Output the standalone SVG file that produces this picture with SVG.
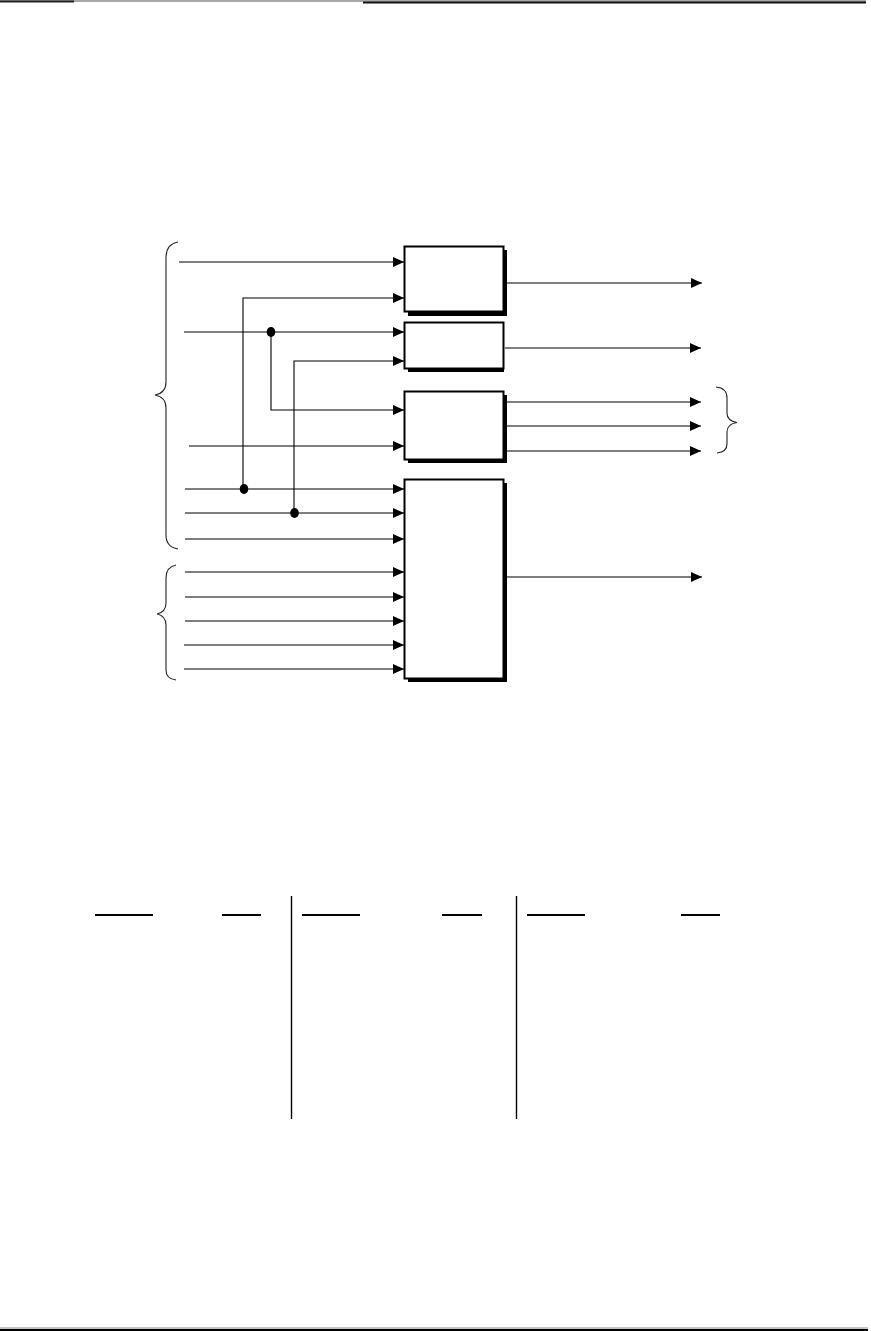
<svg xmlns="http://www.w3.org/2000/svg" width="871" height="1331" viewBox="0 0 871 1331">
<style>
.box{fill:#fff;stroke:#000;stroke-width:2}
.shadow{fill:#000}
.wire{fill:none;stroke:#000;stroke-width:1.1}
.brace{fill:none;stroke:#222;stroke-width:1.1}
.rule{stroke:#000;stroke-width:2.2}
.vrule{stroke:#000;stroke-width:1.4}
</style>
<defs>
<marker id="arr" markerUnits="userSpaceOnUse" markerWidth="12" markerHeight="11" refX="11" refY="5" orient="auto">
<path d="M0,0 L11,5 L0,10 z" fill="#000"/>
</marker>
</defs>
<rect width="871" height="1331" fill="#fff"/>
<g id="page-rules">
<line x1="0" y1="1" x2="866" y2="1" stroke="#8a8a8a" stroke-width="1.5"/>
<line x1="0" y1="1.5" x2="74" y2="1.5" stroke="#222" stroke-width="2"/>
<line x1="363" y1="2.5" x2="866" y2="2.5" stroke="#111" stroke-width="2"/>
<line x1="0" y1="1328" x2="868" y2="1328" stroke="#888" stroke-width="1"/>
<line x1="0" y1="1330" x2="868" y2="1330" stroke="#000" stroke-width="1.8"/>
</g>
<g id="braces">
<path class="brace" d="M178,242 Q166,244 166,258 L166,382 Q166,393 155,395 Q166,397 166,408 L166,535 Q166,547 178,549"/>
<path class="brace" d="M176,565 Q166,567 166,578 L166,603 Q166,612 157,614 Q166,616 166,625 L166,670 Q166,679 176,680"/>
<path class="brace" d="M716,387 Q727,388 727,398 L727,413 Q727,421 737,422.5 Q727,424 727,432 L727,444 Q727,452 717,453"/>
</g>
<g id="connectors">
<path class="wire" d="M179,262 H404" marker-end="url(#arr)"/>
<path class="wire" d="M243,489 V298 H404" marker-end="url(#arr)"/>
<path class="wire" d="M184,332 H404" marker-end="url(#arr)"/>
<path class="wire" d="M271,332 V410 H404" marker-end="url(#arr)"/>
<path class="wire" d="M294,513 V361 H404" marker-end="url(#arr)"/>
<path class="wire" d="M189,446 H404" marker-end="url(#arr)"/>
<path class="wire" d="M185,489 H404" marker-end="url(#arr)"/>
<path class="wire" d="M185,513 H404" marker-end="url(#arr)"/>
<path class="wire" d="M185,539 H404" marker-end="url(#arr)"/>
<path class="wire" d="M185,572 H404" marker-end="url(#arr)"/>
<path class="wire" d="M185,597 H404" marker-end="url(#arr)"/>
<path class="wire" d="M185,621 H404" marker-end="url(#arr)"/>
<path class="wire" d="M184,645 H404" marker-end="url(#arr)"/>
<path class="wire" d="M184,669 H404" marker-end="url(#arr)"/>
<path class="wire" d="M507,283 H702" marker-end="url(#arr)"/>
<path class="wire" d="M505,348 H701" marker-end="url(#arr)"/>
<path class="wire" d="M507,402 H701" marker-end="url(#arr)"/>
<path class="wire" d="M507,426 H701" marker-end="url(#arr)"/>
<path class="wire" d="M507,451 H701" marker-end="url(#arr)"/>
<path class="wire" d="M507,577 H702" marker-end="url(#arr)"/>
<ellipse cx="271" cy="332" rx="4.3" ry="5" fill="#000"/>
<ellipse cx="244" cy="489" rx="4.3" ry="5" fill="#000"/>
<ellipse cx="294.5" cy="513" rx="4.3" ry="5" fill="#000"/>
</g>
<g id="block1">
<rect class="shadow" x="408" y="250" width="99" height="66"/>
<rect class="box" x="404.5" y="246.5" width="99" height="65"/>
</g>
<g id="block2">
<rect class="shadow" x="408" y="326" width="96" height="46"/>
<rect class="box" x="404.5" y="322.5" width="99" height="46"/>
</g>
<g id="block3">
<rect class="shadow" x="408" y="395" width="99" height="68"/>
<rect class="box" x="404.5" y="391.5" width="99" height="68"/>
</g>
<g id="block4">
<rect class="shadow" x="408" y="483" width="99" height="199"/>
<rect class="box" x="404.5" y="479.5" width="99" height="199"/>
</g>
<g id="table">
<line class="rule" x1="95" y1="915" x2="153" y2="915"/>
<line class="rule" x1="222" y1="915" x2="261" y2="915"/>
<line class="rule" x1="302" y1="915" x2="360" y2="915"/>
<line class="rule" x1="442" y1="915" x2="482" y2="915"/>
<line class="rule" x1="527" y1="915" x2="585" y2="915"/>
<line class="rule" x1="681" y1="915" x2="720" y2="915"/>
<line class="vrule" x1="291.5" y1="896" x2="291.5" y2="1119"/>
<line class="vrule" x1="516.5" y1="896" x2="516.5" y2="1119"/>
</g>
</svg>
